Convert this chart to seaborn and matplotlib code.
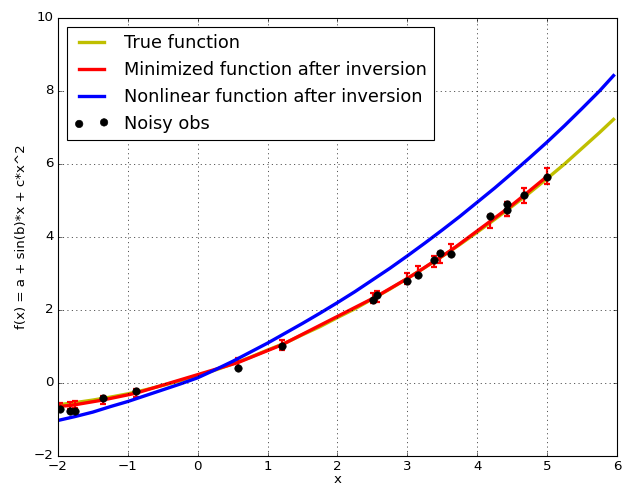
import matplotlib
matplotlib.use('Agg')
import matplotlib.pyplot as plt
import numpy as np
import pandas as pd
import seaborn as sns

# curves
x_curve = [-2.0, -1.75, -1.5, -1.25, -1.0, -0.75, -0.5, -0.25, 0.0, 0.25, 0.5, 0.75,
           1.0, 1.25, 1.5, 1.75, 2.0, 2.25, 2.5, 2.75, 3.0, 3.25, 3.5, 3.75,
           4.0, 4.25, 4.5, 4.75, 5.0, 5.25, 5.5, 5.75, 5.95]
y_true = [-0.60, -0.54, -0.47, -0.39, -0.30, -0.19, -0.07, 0.06, 0.20, 0.35, 0.52, 0.70,
          0.90, 1.09, 1.32, 1.54, 1.79, 2.03, 2.30, 2.57, 2.86, 3.16, 3.47, 3.79,
          4.13, 4.48, 4.84, 5.21, 5.60, 6.00, 6.43, 6.86, 7.22]
y_nonlin = [-1.03, -0.92, -0.80, -0.65, -0.51, -0.35, -0.19, -0.03, 0.14, 0.36, 0.59, 0.84,
            1.09, 1.36, 1.63, 1.91, 2.20, 2.50, 2.82, 3.14, 3.48, 3.83, 4.19, 4.56,
            4.95, 5.34, 5.75, 6.17, 6.60, 7.05, 7.52, 8.00, 8.42]

# noisy observations and the fitted (minimized) values at them
x_obs = [-1.97, -1.83, -1.76, -1.36, -0.88, 0.58, 1.20, 2.51, 2.56, 2.99, 3.15, 3.38, 3.47, 3.63, 4.18, 4.42, 4.43, 4.67, 5.00]
y_obs = [-0.72, -0.76, -0.76, -0.40, -0.23, 0.42, 1.00, 2.27, 2.40, 2.78, 2.97, 3.38, 3.55, 3.54, 4.57, 4.74, 4.90, 5.15, 5.64]
y_min = [-0.64, -0.62, -0.60, -0.47, -0.28, 0.56, 1.04, 2.32, 2.37, 2.85, 3.04, 3.33, 3.44, 3.64, 4.42, 4.76, 4.77, 5.14, 5.66]
y_err = [0.10, 0.10, 0.10, 0.11, 0.11, 0.12, 0.13, 0.14, 0.14, 0.15, 0.15, 0.16, 0.16, 0.16, 0.18, 0.19, 0.19, 0.20, 0.22]

plt.style.use('classic')

curves = pd.DataFrame({'x': x_curve, 'true': y_true, 'nonlin': y_nonlin})
obs = pd.DataFrame({'x': x_obs, 'y': y_obs, 'fit': y_min, 'err': y_err})

fig, ax = plt.subplots(figsize=(622 / 80, 485 / 80), dpi=80, facecolor='white')
fig.subplots_adjust(left=0.093, right=0.992, bottom=0.06, top=0.963)

sns.lineplot(data=curves, x='x', y='true', color='y', lw=3, label='True function', ax=ax)
sns.lineplot(data=obs, x='x', y='fit', color='r', lw=3, label='Minimized function after inversion', ax=ax)
ax.errorbar(obs['x'], obs['fit'], yerr=obs['err'], fmt='none', ecolor='r',
            elinewidth=2, capsize=3, capthick=2)
sns.lineplot(data=curves, x='x', y='nonlin', color='b', lw=3, label='Nonlinear function after inversion', ax=ax)
sns.scatterplot(data=obs, x='x', y='y', color='k', s=45, edgecolor='k', label='Noisy obs', ax=ax, zorder=3)

ax.set_xlim(-2, 6)
ax.set_ylim(-2, 10)
ax.grid(True, linestyle=':', color='k', linewidth=0.6)
ax.set_xlabel('x', labelpad=0)
ax.set_ylabel('f(x) = a + sin(b)*x + c*x^2')
ax.legend(loc='upper left', scatterpoints=2, fontsize=16, frameon=True, fancybox=False)

fig.savefig('out.png', dpi=80, facecolor='white')
